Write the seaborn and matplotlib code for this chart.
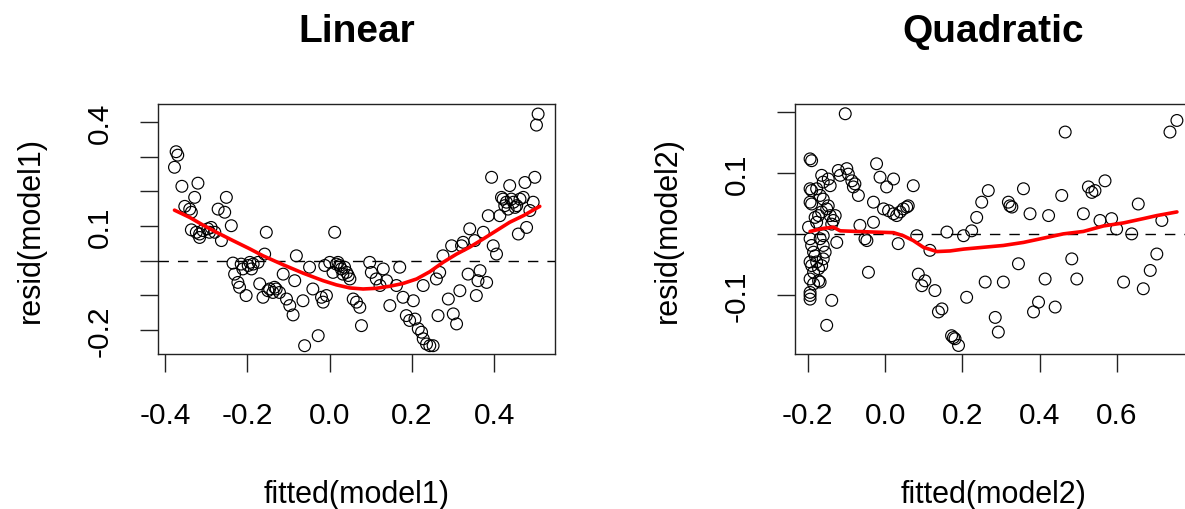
import numpy as np
import pandas as pd
import seaborn as sns
import matplotlib
matplotlib.use("Agg")
import matplotlib.pyplot as plt

# values
lin_fitted = [-0.373, -0.369, -0.377, -0.359, -0.320, -0.328, -0.352, -0.340, -0.336, -0.336,
              -0.316, -0.308, -0.296, -0.288, -0.279, -0.263, -0.316, -0.271, -0.255, -0.251,
              -0.239, -0.235, -0.231, -0.223, -0.219, -0.203, -0.215, -0.198, -0.190, -0.186,
              -0.174, -0.154, -0.158, -0.170, -0.162, -0.146, -0.134, -0.138, -0.122, -0.113,
              -0.105, -0.097, -0.089, -0.081, -0.085, -0.065, -0.061, -0.028, -0.049, -0.041,
              -0.020, -0.016, -0.008, -0.012, 0.012, 0.000, 0.016, 0.024, 0.028, 0.032,
              0.041, 0.049, 0.008, 0.057, 0.065, 0.073, 0.077, 0.097, 0.101, 0.113,
              0.122, 0.130, 0.138, 0.146, 0.162, 0.170, 0.178, 0.186, 0.194, 0.203,
              0.207, 0.215, 0.223, 0.227, 0.235, 0.243, 0.251, 0.227, 0.259, 0.267,
              0.263, 0.275, 0.288, 0.296, 0.300, 0.308, 0.316, 0.320, 0.324, 0.336,
              0.340, 0.352, 0.356, 0.360, 0.365, 0.373, 0.381, 0.385, 0.397, 0.405,
              0.393, 0.413, 0.417, 0.421, 0.425, 0.433, 0.437, 0.441, 0.446, 0.454,
              0.458, 0.462, 0.470, 0.474, 0.478, 0.486, 0.494, 0.498, 0.506, 0.502,
              0.020, 0.036, 0.045, -0.150, -0.130, -0.211, -0.194, -0.324, -0.292, 0.429, 0.450]
lin_resid = [0.315, 0.305, 0.270, 0.215, 0.224, 0.183, 0.157, 0.149, 0.140, 0.089,
             0.077, 0.087, 0.092, 0.096, 0.082, 0.058, 0.067, 0.149, 0.140, 0.183,
             0.101, -0.007, -0.039, -0.063, -0.077, -0.101, -0.010, -0.014, -0.024, -0.010,
             -0.005, 0.082, 0.019, -0.067, -0.106, -0.082, -0.077, -0.092, -0.092, -0.039,
             -0.111, -0.130, -0.157, 0.014, -0.058, -0.116, -0.246, -0.217, -0.019, -0.082,
             -0.106, -0.120, -0.101, -0.014, 0.082, -0.005, -0.010, -0.014, -0.024, -0.039,
             -0.034, -0.053, -0.034, -0.111, -0.120, -0.135, -0.188, -0.005, -0.034, -0.053,
             -0.072, -0.024, -0.058, -0.130, -0.072, -0.019, -0.106, -0.159, -0.173, -0.116,
             -0.169, -0.197, -0.207, -0.226, -0.241, -0.246, -0.246, -0.072, -0.053, -0.034,
             -0.159, 0.014, -0.111, 0.043, -0.154, -0.183, -0.087, 0.043, 0.053, -0.039,
             0.092, 0.058, -0.101, -0.058, -0.029, 0.082, -0.063, 0.130, 0.043, 0.019,
             0.241, 0.130, 0.183, 0.178, 0.159, 0.149, 0.217, 0.178, 0.169, 0.159,
             0.077, 0.178, 0.183, 0.226, 0.096, 0.145, 0.169, 0.241, 0.424, 0.392,
             -0.005, -0.019, -0.043, -0.087, -0.082, -0.024, -0.005, 0.082, 0.082, 0.169, 0.154]
lin_smooth_x = [-0.377, -0.340, -0.308, -0.275, -0.235, -0.194, -0.162, -0.113, -0.065, -0.016,
                0.016, 0.049, 0.081, 0.113, 0.146, 0.178, 0.211, 0.243, 0.275, 0.308,
                0.340, 0.373, 0.405, 0.437, 0.470, 0.510]
lin_smooth_y = [0.146, 0.125, 0.103, 0.082, 0.058, 0.034, 0.014, -0.012, -0.036, -0.058,
                -0.070, -0.079, -0.082, -0.080, -0.074, -0.066, -0.053, -0.032, -0.005, 0.019,
                0.039, 0.063, 0.087, 0.111, 0.130, 0.157]

quad_fitted = [-0.194, -0.190, -0.194, -0.190, -0.194, -0.190, -0.198, -0.194, -0.190, -0.185,
               -0.194, -0.190, -0.185, -0.194, -0.194, -0.194, -0.194, -0.181, -0.177, -0.172,
               -0.168, -0.164, -0.160, -0.160, -0.160, -0.177, -0.172, -0.164, -0.151, -0.147,
               -0.142, -0.129, -0.138, -0.125, -0.151, -0.138, -0.164, -0.160, -0.147, -0.142,
               -0.177, -0.168, -0.181, -0.121, -0.116, -0.099, -0.095, -0.086, -0.078, -0.069,
               -0.103, -0.065, -0.052, -0.047, -0.043, -0.030, -0.030, -0.022, -0.013, -0.004,
               0.004, 0.009, 0.022, 0.022, 0.030, 0.039, 0.047, 0.056, 0.060, 0.073,
               0.034, 0.082, 0.086, 0.095, 0.103, 0.116, 0.129, 0.138, 0.147, 0.160,
               0.172, 0.181, 0.190, 0.203, 0.211, 0.224, 0.237, 0.250, 0.267, 0.259,
               0.285, 0.293, 0.306, 0.319, 0.328, 0.345, 0.358, 0.375, 0.384, 0.397,
               0.414, 0.423, 0.440, 0.457, 0.466, 0.483, 0.496, 0.513, 0.526, 0.543,
               0.569, 0.556, 0.586, 0.599, 0.617, 0.638, 0.655, 0.668, 0.686, 0.703,
               0.716, 0.737, 0.755,
               -0.160, -0.134, -0.168, -0.155, -0.172, -0.185, -0.082, 0.535, 0.323, 0.177]
quad_resid = [0.123, 0.120, 0.074, 0.071, 0.052, 0.049, 0.011, -0.008, -0.019, -0.030,
              -0.046, -0.052, -0.063, -0.074, -0.096, -0.101, -0.107, -0.036, -0.046, -0.057,
              -0.079, -0.052, -0.041, -0.019, -0.003, 0.019, 0.030, 0.036, 0.041, 0.046,
              0.030, 0.030, 0.016, -0.014, -0.150, -0.109, 0.096, 0.085, 0.090, 0.079,
              0.074, 0.063, 0.027, 0.104, 0.096, 0.107, 0.098, 0.087, 0.082, 0.063,
              0.197, 0.014, -0.008, -0.011, -0.063, 0.019, 0.052, 0.115, 0.093, 0.041,
              0.077, 0.038, 0.090, 0.033, 0.030, 0.036, 0.041, 0.044, 0.046, 0.079,
              -0.016, -0.003, -0.066, -0.085, -0.077, -0.027, -0.093, -0.128, -0.123, 0.003,
              -0.167, -0.172, -0.183, -0.003, -0.104, 0.005, 0.027, 0.052, 0.071, -0.079,
              -0.137, -0.161, -0.079, 0.052, 0.044, -0.049, 0.074, 0.033, -0.128, -0.112,
              -0.074, 0.030, -0.120, 0.063, 0.167, -0.041, -0.074, 0.033, 0.077, 0.071,
              0.087, 0.022, 0.025, 0.008, -0.079, 0.000, 0.049, -0.090, -0.060, -0.033,
              0.022, 0.167, 0.186,
              0.057, 0.022, -0.008, -0.030, -0.077, -0.082, 0.077, 0.068, 0.046, -0.170]
quad_smooth_x = [-0.194, -0.160, -0.134, -0.116, -0.073, -0.030, 0.022, 0.047, 0.073, 0.099,
                 0.134, 0.168, 0.203, 0.254, 0.306, 0.358, 0.410, 0.461, 0.513, 0.565,
                 0.617, 0.668, 0.703, 0.755]
quad_smooth_y = [0.004, 0.009, 0.011, 0.005, 0.004, 0.003, 0.002, -0.003, -0.011, -0.022,
                 -0.029, -0.028, -0.025, -0.022, -0.019, -0.014, -0.007, 0.000, 0.004, 0.013,
                 0.018, 0.025, 0.030, 0.036]

titles = ["Linear", "Quadratic"]
xlabels = ["fitted(model1)", "fitted(model2)"]
ylabels = ["resid(model1)", "resid(model2)"]

sns.set_style("white")
plt.rcParams["font.family"] = ["Liberation Sans", "DejaVu Sans"]
plt.rcParams["text.color"] = "black"
plt.rcParams["xtick.color"] = "black"
plt.rcParams["ytick.color"] = "black"

W, H = 1185, 510
fig = plt.figure(figsize=(W / 100, H / 100), dpi=100)


def px_axes(left, top, right, bottom):
    return fig.add_axes([left / W, 1 - bottom / H, (right - left) / W, (bottom - top) / H])


panels = [
    dict(ax=px_axes(158, 105, 555, 355), x=lin_fitted, y=lin_resid,
         sx=lin_smooth_x, sy=lin_smooth_y, xlim=(-0.417, 0.547), ylim=(-0.270, 0.453),
         xticks=[-0.4, -0.2, 0.0, 0.2, 0.4],
         yticks=[-0.2, -0.1, 0.0, 0.1, 0.2, 0.3, 0.4],
         ylabs=["-0.2", "", "", "0.1", "", "", "0.4"]),
    dict(ax=px_axes(795, 105, 1192, 355), x=quad_fitted, y=quad_resid,
         sx=quad_smooth_x, sy=quad_smooth_y, xlim=(-0.233, 0.794), ylim=(-0.197, 0.213),
         xticks=[-0.2, 0.0, 0.2, 0.4, 0.6],
         yticks=[-0.1, 0.0, 0.1, 0.2],
         ylabs=["-0.1", "", "0.1", ""]),
]

for i, p in enumerate(panels):
    ax = p["ax"]
    df = pd.DataFrame({"fitted": p["x"], "resid": p["y"]})
    sns.scatterplot(data=df, x="fitted", y="resid", ax=ax, marker="o", s=72,
                    facecolor="none", edgecolor="black", linewidth=0.85, zorder=2)
    for coll in ax.collections:
        coll.set_facecolor("none")
        coll.set_edgecolor("black")
    ax.axhline(0, color="black", lw=1.0, ls=(0, (7.5, 6.5)), zorder=3)
    sm = pd.DataFrame({"x": p["sx"], "y": p["sy"]})
    sns.lineplot(data=sm, x="x", y="y", ax=ax, sort=False, estimator=None,
                 color="red", linewidth=2.6, zorder=4)

    ax.set_xlim(*p["xlim"])
    ax.set_ylim(*p["ylim"])
    ax.set_xticks(p["xticks"])
    ax.set_xticklabels([f"{t:.1f}" for t in p["xticks"]])
    ax.set_yticks(p["yticks"])
    ax.set_yticklabels(p["ylabs"], rotation=90, ha="center", va="center")
    for lab in ax.get_xticklabels():
        lab.set_va("center")
    ax.tick_params(axis="both", direction="out", length=13, width=1, color="#222222",
                   labelsize=21.5, labelcolor="black", bottom=True, left=True)
    ax.tick_params(axis="x", pad=31)
    ax.tick_params(axis="y", pad=29)
    for sp in ax.spines.values():
        sp.set_visible(True)
        sp.set_color("#222222")
        sp.set_linewidth(1.0)
    ax.set_xlabel("")
    ax.set_ylabel("")
    ax.grid(False)

    # titles and axis labels placed like R's margins
    pos = ax.get_position()
    cx = pos.x0 + pos.width / 2
    cy = pos.y0 + pos.height / 2
    fig.text(cx, 1 - 41.7 / H, titles[i], ha="center", va="baseline",
             fontsize=28, fontweight="bold", color="black")
    fig.text(cx, 1 - 503 / H, xlabels[i], ha="center", va="baseline",
             fontsize=22, color="black")
    fig.text(pos.x0 - 127 / W, cy, ylabels[i], ha="center", va="center",
             rotation=90, fontsize=22, color="black")

fig.savefig("out.png", dpi=100)
